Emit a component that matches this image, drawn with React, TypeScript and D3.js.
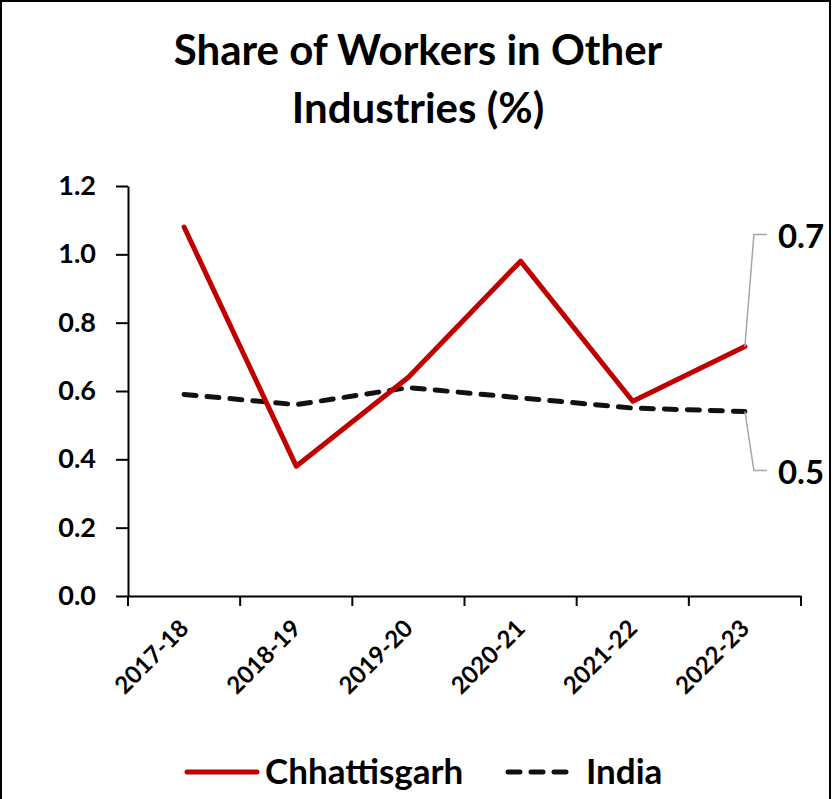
import React, { useEffect, useRef } from "react";
import * as d3 from "d3";

// chart data
const years = ["2017-18", "2018-19", "2019-20", "2020-21", "2021-22", "2022-23"];
const chhattisgarh = [1.08, 0.38, 0.64, 0.98, 0.57, 0.73];
const india = [0.59, 0.56, 0.61, 0.58, 0.55, 0.54];
const yTicks = [0, 0.2, 0.4, 0.6, 0.8, 1.0, 1.2];

const W = 833;
const H = 799;
const FONT = "Lato, 'Open Sans', sans-serif";

const App: React.FC = () => {
  const svgRef = useRef<SVGSVGElement | null>(null);

  useEffect(() => {
    if (!svgRef.current) return;
    const svg = d3.select(svgRef.current);
    svg.selectAll("*").remove();

    const left = 128;
    const right = 801;
    const top = 186;
    const bottom = 596;

    // outer frame
    svg.append("rect")
      .attr("x", 1)
      .attr("y", 1)
      .attr("width", W - 4)
      .attr("height", H + 10)
      .attr("fill", "white")
      .attr("stroke", "black")
      .attr("stroke-width", 2);

    // title
    const title = svg.append("text")
      .attr("text-anchor", "middle")
      .style("font-family", FONT)
      .style("font-weight", "bold")
      .style("font-size", "42px")
      .attr("fill", "black");
    title.append("tspan").attr("x", 418).attr("y", 65).text("Share of Workers in Other");
    title.append("tspan").attr("x", 418).attr("y", 123).text("Industries (%)");

    const x = d3.scaleBand<string>().domain(years).range([left, right]);
    const y = d3.scaleLinear().domain([0, 1.2]).range([bottom, top]);

    // y axis
    const yAxis = svg.append("g")
      .attr("transform", `translate(${left},0)`)
      .call(d3.axisLeft(y).tickValues(yTicks).tickFormat(d3.format(".1f")).tickSize(12).tickSizeOuter(0).tickPadding(20));
    yAxis.select(".domain").attr("stroke", "black").attr("stroke-width", 2);
    yAxis.selectAll(".tick line").attr("stroke", "black").attr("stroke-width", 2);
    yAxis.selectAll(".tick text")
      .style("font-family", FONT)
      .style("font-weight", "bold")
      .style("font-size", "27px")
      .attr("fill", "black");

    // x axis
    const xAxis = svg.append("g")
      .attr("transform", `translate(0,${bottom})`)
      .call(d3.axisBottom(x).tickSize(0).tickSizeOuter(0).tickFormat(() => ""));
    xAxis.select(".domain").attr("stroke", "black").attr("stroke-width", 2);

    const edges = [...years.map((d) => x(d) as number), right];
    svg.append("g")
      .selectAll("line")
      .data(edges)
      .enter()
      .append("line")
      .attr("x1", (d) => d)
      .attr("x2", (d) => d)
      .attr("y1", bottom)
      .attr("y2", bottom + 10)
      .attr("stroke", "black")
      .attr("stroke-width", 2);

    svg.append("g")
      .selectAll("text")
      .data(years)
      .enter()
      .append("text")
      .attr("transform", (d) => `translate(${(x(d) as number) + x.bandwidth() / 2 + 6},${bottom + 34}) rotate(-45)`)
      .attr("text-anchor", "end")
      .style("font-family", FONT)
      .style("font-weight", "bold")
      .style("font-size", "24px")
      .attr("fill", "black")
      .text((d) => d);

    const cx = (i: number) => (x(years[i]) as number) + x.bandwidth() / 2;
    const line = d3.line<number>().x((_, i) => cx(i)).y((d) => y(d));

    // India (dashed)
    svg.append("path")
      .attr("d", line(india) as string)
      .attr("fill", "none")
      .attr("stroke", "#111")
      .attr("stroke-width", 5)
      .attr("stroke-dasharray", "12 11")
      .attr("stroke-linecap", "round");

    // Chhattisgarh
    svg.append("path")
      .attr("d", line(chhattisgarh) as string)
      .attr("fill", "none")
      .attr("stroke", "#c00000")
      .attr("stroke-width", 5)
      .attr("stroke-linejoin", "round")
      .attr("stroke-linecap", "round");

    // end labels with leader lines
    const last = years.length - 1;
    const lx = cx(last);
    const labels = [
      { v: chhattisgarh[last], dy: -112 },
      { v: india[last], dy: 59 },
    ];
    labels.forEach((l) => {
      const py = y(l.v);
      const ty = py + l.dy;
      svg.append("path")
        .attr("d", `M${lx},${py} L${lx + 9},${ty} L${lx + 22},${ty}`)
        .attr("fill", "none")
        .attr("stroke", "#a6a6a6")
        .attr("stroke-width", 1.5);
      svg.append("text")
        .attr("x", lx + 33)
        .attr("y", ty + 13)
        .style("font-family", FONT)
        .style("font-weight", "bold")
        .style("font-size", "33px")
        .attr("fill", "black")
        .text(d3.format(".1f")(Math.floor(l.v * 10) / 10));
    });

    // legend
    const ly = 772;
    const lg = svg.append("g");
    lg.append("line")
      .attr("x1", 187).attr("x2", 257).attr("y1", ly).attr("y2", ly)
      .attr("stroke", "#c00000").attr("stroke-width", 5).attr("stroke-linecap", "round");
    lg.append("text")
      .attr("x", 265).attr("y", ly + 12)
      .style("font-family", FONT).style("font-weight", "bold").style("font-size", "35px")
      .attr("fill", "black").text("Chhattisgarh");
    lg.append("line")
      .attr("x1", 508).attr("x2", 570).attr("y1", ly).attr("y2", ly)
      .attr("stroke", "#111").attr("stroke-width", 5)
      .attr("stroke-dasharray", "12 11").attr("stroke-linecap", "round");
    lg.append("text")
      .attr("x", 586).attr("y", ly + 12)
      .style("font-family", FONT).style("font-weight", "bold").style("font-size", "35px")
      .attr("fill", "black").text("India");
  }, []);

  return (
    <div style={{ position: "absolute", left: 0, top: 0 }}>
      <svg ref={svgRef} width={W} height={H} style={{ display: "block" }} />
    </div>
  );
};

export default App;
